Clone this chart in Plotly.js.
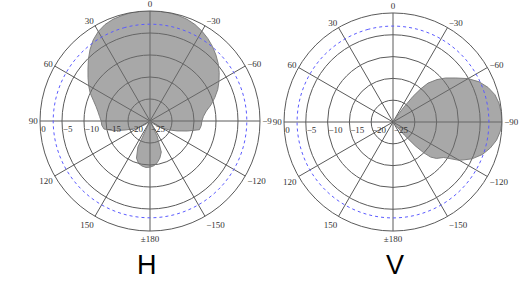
<!DOCTYPE html>
<html>
<head>
<meta charset="utf-8">
<script src="https://cdn.plot.ly/plotly-3.0.1.min.js"></script>
<style>html,body{margin:0;padding:0;background:#fff;}#chart{width:531px;height:293px;}</style>
</head>
<body>
<div id="chart"></div>
<script>
// Horizontal pattern (dB vs angle)
const thetaH = [-180,-175,-170,-165,-160,-155,-150,-145,-140,-135,-130,-125,-120,-115,-110,-105,-100,-95,-90,-85,-80,-75,-70,-65,-60,-55,-50,-45,-40,-35,-30,-25,-20,-15,-10,-5,0,5,10,15,20,25,30,35,40,45,50,55,60,65,70,75,80,85,90,95,100,105,110,115,120,125,130,135,140,145,150,155,160,165,170,175,180];
const gainH = [-14.5,-14.8,-15.4,-16.3,-17.5,-21,-25,-25,-25,-25,-24,-23,-21.8,-20.2,-18.4,-16.2,-13.6,-13.3,-13.2,-12.8,-12.0,-10.6,-9.3,-8.0,-6.9,-5.8,-4.75,-3.8,-2.9,-2.1,-1.4,-0.8,-0.4,-0.15,0,0,0,0,0,-0.2,-0.4,-0.8,-1.5,-2.5,-3.8,-5.2,-6.6,-7.8,-8.9,-10.0,-11.3,-12.3,-13.0,-13.5,-13.9,-14.0,-14.4,-16.5,-19.0,-20.8,-22.3,-23.3,-24.2,-25,-25,-25,-25,-18.5,-16.0,-15.0,-14.6,-14.4,-14.5];

// Vertical pattern (dB vs angle)
const thetaV = [-180,-150,-143,-141,-139,-137,-135,-133,-130,-125,-120,-115,-110,-105,-100,-95,-90,-85,-80,-75,-70,-65,-60,-55,-50,-46,-42,-40,-38,-36,-34,-32,0,90,180];
const gainV = [-25,-25,-25,-24,-21,-17.5,-15.0,-13.2,-12.0,-10.8,-7.4,-5.0,-3.2,-1.9,-0.9,-0.3,0,-0.1,-0.3,-0.8,-1.8,-3.2,-5.1,-7.4,-9.3,-11,-13,-15,-17.5,-21,-24,-25,-25,-25,-25];

// -3 dB reference circle
const refTheta = [0,15,30,45,60,75,90,105,120,135,150,165,180,195,210,225,240,255,270,285,300,315,330,345,360];
const refDb = -3;

const radialTicks = [-25,-20,-15,-10,-5,0];
const radialTickText = ['\u00a0'.repeat(7)+'−25','\u00a0'.repeat(7)+'−20','\u00a0'.repeat(7)+'−15','\u00a0'.repeat(7)+'−10','\u00a0'.repeat(5)+'−5','\u00a0'.repeat(3)+'0'];
const angTickVals = [0,30,60,90,120,150,180,210,240,270,300,330];
const angTickTextH = ['0','30','60','90','120','150','±180','−150','−120','−9','−60','−30'];
const angTickTextV = ['0','30','60','90','120','150','±180','−150','−120','−90','−60','−30'];

const gridCol = '#5a5a5a';
const tickFont = {family:'Liberation Serif, Times New Roman, serif', size:9, color:'#333'};

function polarLayout(domain, tickText){
  return {
    domain: domain,
    bgcolor: 'rgba(0,0,0,0)',
    radialaxis: {
      range: [-25, 0], tickvals: radialTicks, ticktext: radialTickText, angle: 180, side: 'counterclockwise', tickangle: 180,
      showline: false, ticks: '', gridcolor: gridCol, gridwidth: 1, tickfont: tickFont
    },
    angularaxis: {
      rotation: 90, direction: 'counterclockwise', tickvals: angTickVals, ticktext: tickText,
      ticks: '', gridcolor: gridCol, gridwidth: 1, linecolor: gridCol, linewidth: 1, tickfont: tickFont
    }
  };
}

function patternTrace(theta, r, sub){
  return {type:'scatterpolar', mode:'lines', theta: theta, r: r, subplot: sub,
    fill:'toself', fillcolor:'rgba(110,110,110,0.6)', line:{color:'rgba(120,120,120,0.9)', width:1}, hoverinfo:'skip'};
}
function refTrace(sub){
  return {type:'scatterpolar', mode:'lines', theta: refTheta, r: refTheta.map(() => refDb), subplot: sub,
    line:{color:'#5b5bff', width:1, dash:'3px,3px', shape:'spline'}, hoverinfo:'skip'};
}

const data = [
  patternTrace(thetaH, gainH, 'polar'), refTrace('polar'),
  patternTrace(thetaV, gainV, 'polar2'), refTrace('polar2')
];

const layout = {
  width: 531, height: 293, margin: {l:0, r:0, t:0, b:0},
  paper_bgcolor: '#fff', showlegend: false,
  polar: polarLayout({x:[40/531, 260/531], y:[1-231/293, 1-11/293]}, angTickTextH),
  polar2: polarLayout({x:[284/531, 502/531], y:[1-231/293, 1-13/293]}, angTickTextV),
  annotations: [
    {text:'H', x:147/531, y:1-265/293, xref:'paper', yref:'paper', showarrow:false, xanchor:'center', yanchor:'middle',
     font:{family:'Liberation Sans, Arial, sans-serif', size:27, color:'#000'}},
    {text:'V', x:395/531, y:1-265/293, xref:'paper', yref:'paper', showarrow:false, xanchor:'center', yanchor:'middle',
     font:{family:'Liberation Sans, Arial, sans-serif', size:27, color:'#000'}}
  ]
};

Plotly.newPlot('chart', data, layout, {staticPlot:true, displayModeBar:false});
</script>
</body>
</html>
